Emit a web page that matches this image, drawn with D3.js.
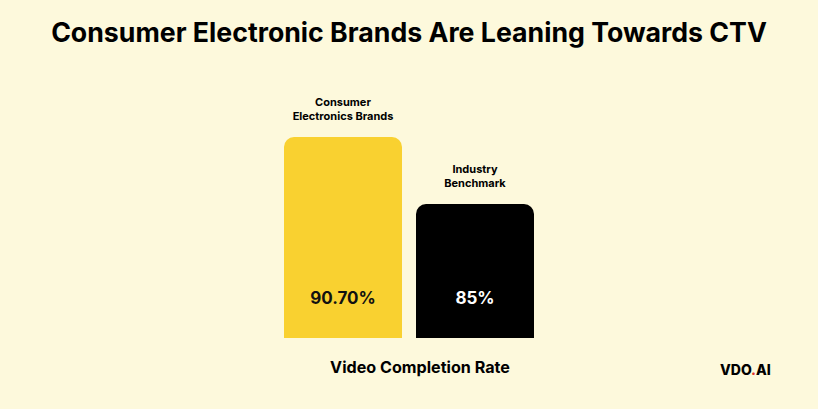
<!DOCTYPE html>
<html><head><meta charset="utf-8">
<script src="https://cdn.jsdelivr.net/npm/d3@7"></script>
<style>html,body{margin:0;padding:0;background:#FDF9DC;}svg{display:block;}</style>
</head><body>
<svg id="c" width="818" height="409"></svg>
<script>
const categories = [["Consumer", "Electronics Brands"], ["Industry", "Benchmark"]];
const values = [90.7, 85];
const valueLabels = ["90.70%", "85%"];
const title = "Consumer Electronic Brands Are Leaning Towards CTV";
const xTitle = "Video Completion Rate";

const W = 818, H = 409;
const svg = d3.select("#c");
svg.append("rect").attr("width", W).attr("height", H).attr("fill", "#FDF9DC");
const font = "Inter, 'Noto Sans', sans-serif";

function fitText(sel, target) {
  const w = sel.node().getComputedTextLength();
  const fs = parseFloat(sel.attr("font-size"));
  sel.attr("font-size", fs * target / w);
}

const t = svg.append("text").attr("x", 409).attr("y", 42).attr("text-anchor", "middle")
  .attr("font-family", font).attr("font-weight", 700).attr("font-size", 26).attr("fill", "#000").text(title);
fitText(t, 716);

const x = d3.scaleBand().domain(d3.range(values.length)).range([284 - 7, 534 + 7]).paddingInner(14 / 132).paddingOuter(7 / 132);
const y = d3.scaleLinear().domain([73.6, 90.7]).range([338, 137]);
const colors = ["#F9D130", "#000000"];
const textColors = ["#111", "#fff"];
const r = 10;

values.forEach((v, i) => {
  const x0 = x(i), w = x.bandwidth(), y0 = y(v), y1 = y.range()[0];
  const p = d3.path();
  p.moveTo(x0, y1);
  p.lineTo(x0, y0 + r);
  p.arcTo(x0, y0, x0 + r, y0, r);
  p.lineTo(x0 + w - r, y0);
  p.arcTo(x0 + w, y0, x0 + w, y0 + r, r);
  p.lineTo(x0 + w, y1);
  p.closePath();
  svg.append("path").attr("d", p.toString()).attr("fill", colors[i]);

  const cx = x0 + w / 2;
  categories[i].forEach((line, j) => {
    svg.append("text").attr("x", cx).attr("y", y0 - 17 - (categories[i].length - 1 - j) * 14)
      .attr("text-anchor", "middle").attr("font-family", font).attr("font-weight", 700)
      .attr("font-size", 11).attr("fill", "#000").text(line);
  });
  svg.append("text").attr("x", cx).attr("y", 304).attr("text-anchor", "middle")
    .attr("font-family", font).attr("font-weight", 700).attr("font-size", 17)
    .attr("fill", textColors[i]).text(valueLabels[i]);
});

const xt = svg.append("text").attr("x", 420).attr("y", 373).attr("text-anchor", "middle")
  .attr("font-family", font).attr("font-weight", 700).attr("font-size", 15).attr("fill", "#000").text(xTitle);
fitText(xt, 180);

const logo = svg.append("text").attr("x", 720).attr("y", 375).attr("font-family", font)
  .attr("font-weight", 800).attr("font-size", 14).attr("fill", "#000");
logo.append("tspan").text("VDO");
logo.append("tspan").attr("fill", "#E0322B").text(".");
logo.append("tspan").text("AI");
</script>
</body></html>
